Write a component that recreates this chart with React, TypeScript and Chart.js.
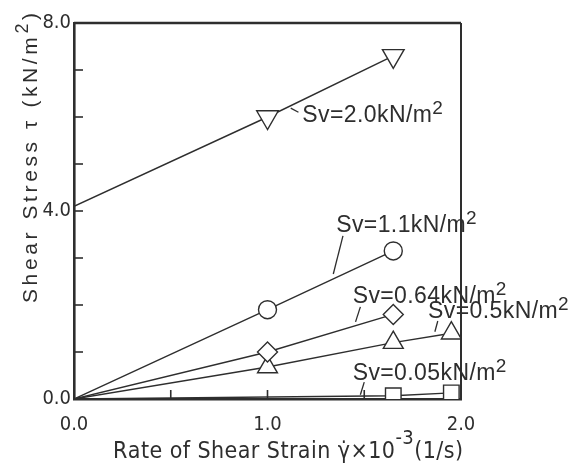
import React, { useEffect, useRef } from "react";
import { Chart, registerables } from "chart.js";
Chart.register(...registerables);

// ---------- data ----------
const xTickValues = [0, 1, 2];
const xTickLabels = ["0.0", "1.0", "2.0"];
const yTickValues = [0, 4, 8];
const yTickLabels = ["0.0", "4.0", "8.0"];

const sv20X = [0, 1.0, 1.65];
const sv20Y = [4.1, 6.0, 7.3];
const sv11X = [0, 1.0, 1.65];
const sv11Y = [0, 1.9, 3.15];
const sv064X = [0, 1.0, 1.65];
const sv064Y = [0, 1.0, 1.8];
const sv05X = [0, 1.0, 1.65, 1.95];
const sv05Y = [0, 0.68, 1.2, 1.4];
const sv005X = [0, 1.65, 1.95];
const sv005Y = [0, 0.07, 0.13];

const seriesLabels = ["Sv=2.0kN/m", "Sv=1.1kN/m", "Sv=0.64kN/m", "Sv=0.5kN/m", "Sv=0.05kN/m"];

// annotation text anchors (data units) and leader lines
const annotations = [
  { label: seriesLabels[0], x: 1.18, y: 5.89, lead: [1.12, 6.19, 1.16, 6.1] },
  { label: seriesLabels[1], x: 1.355, y: 3.55, lead: [1.39, 3.47, 1.34, 2.66] },
  { label: seriesLabels[2], x: 1.44, y: 2.04, lead: [1.48, 1.96, 1.455, 1.64] },
  { label: seriesLabels[3], x: 1.83, y: 1.72, lead: [1.88, 1.66, 1.865, 1.43] },
  { label: seriesLabels[4], x: 1.44, y: 0.40, lead: [1.50, 0.36, 1.48, 0.09] },
];

const INK = "#2e2e2e";
const NARROW = "'DejaVu Sans Condensed', 'Liberation Sans Narrow', sans-serif";
const SANS = "'Liberation Sans', Arial, sans-serif";

type Seg = { t: string; sup?: boolean };

function glyphs(s: string): string[] {
  return s.match(/\P{M}\p{M}*/gu) || [];
}

function richWidth(ctx: CanvasRenderingContext2D, segs: Seg[], font: string, supFont: string) {
  let w = 0;
  let n = 0;
  for (const s of segs) {
    ctx.font = s.sup ? supFont : font;
    for (const g of glyphs(s.t)) {
      w += ctx.measureText(g).width;
      n++;
    }
  }
  return { w, n };
}

function drawRich(
  ctx: CanvasRenderingContext2D,
  segs: Seg[],
  x: number,
  y: number,
  font: string,
  supFont: string,
  sp: number,
  supRaise: number
) {
  let cx = x;
  ctx.textBaseline = "alphabetic";
  ctx.textAlign = "left";
  for (const s of segs) {
    ctx.font = s.sup ? supFont : font;
    for (const g of glyphs(s.t)) {
      ctx.fillText(g, cx, s.sup ? y - supRaise : y);
      cx += ctx.measureText(g).width + sp;
    }
  }
}

const overlay = {
  id: "overlay",
  beforeDatasetsDraw(chart: any) {
    const { ctx, chartArea, scales } = chart;
    const { left, right, top, bottom } = chartArea;
    ctx.save();
    ctx.strokeStyle = INK;
    ctx.lineWidth = 1.6;
    for (const t of scales.x.ticks) {
      const px = scales.x.getPixelForValue(t.value);
      if (px <= left + 1 || px >= right - 1) continue;
      ctx.beginPath();
      ctx.moveTo(px, bottom);
      ctx.lineTo(px, bottom - 9);
      ctx.stroke();
    }
    for (const t of scales.y.ticks) {
      const py = scales.y.getPixelForValue(t.value);
      if (py >= bottom - 1) continue;
      ctx.beginPath();
      ctx.moveTo(left, py);
      ctx.lineTo(left + 9, py);
      ctx.stroke();
    }
    // frame top + right
    ctx.lineWidth = 2.6;
    ctx.beginPath();
    ctx.moveTo(left, top);
    ctx.lineTo(right, top);
    ctx.stroke();
    ctx.lineWidth = 2;
    ctx.beginPath();
    ctx.moveTo(right, top);
    ctx.lineTo(right, bottom);
    ctx.stroke();
    ctx.restore();
  },
  afterDatasetsDraw(chart: any) {
    const { ctx, scales } = chart;
    const xs = scales.x;
    const ys = scales.y;
    ctx.save();
    ctx.fillStyle = INK;
    ctx.strokeStyle = INK;
    ctx.lineWidth = 1.3;
    for (const a of annotations) {
      const px = xs.getPixelForValue(a.x);
      const py = ys.getPixelForValue(a.y);
      drawRich(ctx, [{ t: a.label }, { t: "2", sup: true }], px, py, `23px ${SANS}`, `19px ${SANS}`, 0.4, 8);
      ctx.beginPath();
      ctx.moveTo(xs.getPixelForValue(a.lead[0]), ys.getPixelForValue(a.lead[1]));
      ctx.lineTo(xs.getPixelForValue(a.lead[2]), ys.getPixelForValue(a.lead[3]));
      ctx.stroke();
    }

    // x title
    const xSegs: Seg[] = [{ t: "Rate of Shear Strain γ̇×10" }, { t: "-3", sup: true }, { t: "(1/s)" }];
    const xf = `23px ${NARROW}`;
    const xsf = `20px ${NARROW}`;
    const xm = richWidth(ctx, xSegs, xf, xsf);
    const xsp = (350 - xm.w) / (xm.n - 1);
    drawRich(ctx, xSegs, 113, 458, xf, xsf, xsp, 14);

    // y title
    const ySegs: Seg[] = [{ t: "Shear Stress τ (kN/m" }, { t: "2", sup: true }, { t: ")" }];
    const yf = `21px ${SANS}`;
    const ysf = `18px ${SANS}`;
    const ym = richWidth(ctx, ySegs, yf, ysf);
    const ysp = (290 - ym.w) / (ym.n - 1);
    ctx.translate(37, 303);
    ctx.rotate(-Math.PI / 2);
    drawRich(ctx, ySegs, 0, 0, yf, ysf, ysp, 9);
    ctx.restore();
  },
};

function mk(xv: number[], yv: number[], style: string, r: number, rot = 0) {
  return {
    data: xv.map((x, i) => ({ x, y: yv[i] })),
    showLine: true,
    borderColor: INK,
    borderWidth: 1.4,
    pointStyle: style,
    pointRotation: rot,
    pointRadius: xv.map((x) => (x === 0 ? 0 : r)),
    pointHoverRadius: xv.map((x) => (x === 0 ? 0 : r)),
    pointBackgroundColor: "#ffffff",
    pointBorderColor: INK,
    pointBorderWidth: 1.4,
  };
}

export default function App() {
  const ref = useRef<HTMLCanvasElement>(null);
  useEffect(() => {
    if (!ref.current) return;
    const tickFont = { family: NARROW, size: 20 };
    const chart = new Chart(ref.current, {
      type: "scatter",
      data: {
        datasets: [
          mk(sv20X, sv20Y, "triangle", 12.5, 180),
          mk(sv11X, sv11Y, "circle", 9),
          mk(sv064X, sv064Y, "rectRot", 10),
          mk(sv05X, sv05Y, "triangle", 11.5),
          mk(sv005X, sv005Y, "rect", 11),
        ] as any,
      },
      options: {
        animation: false,
        responsive: false,
        devicePixelRatio: 1,
        layout: { padding: { top: 23, right: 115, left: 0, bottom: 0 } },
        plugins: { legend: { display: false }, tooltip: { enabled: false } },
        scales: {
          x: {
            type: "linear",
            min: 0,
            max: 2,
            grid: { display: false, drawTicks: false },
            border: { display: true, color: INK, width: 2.6 },
            ticks: {
              stepSize: 0.5,
              autoSkip: false,
              maxRotation: 0,
              color: INK,
              font: tickFont,
              padding: 14,
              callback: (v: any) => {
                const i = xTickValues.indexOf(Number(v));
                return i >= 0 ? xTickLabels[i] : "";
              },
            },
            afterFit: (s: any) => {
              s.height = 64;
            },
          },
          y: {
            type: "linear",
            min: 0,
            max: 8,
            grid: { display: false, drawTicks: false },
            border: { display: true, color: INK, width: 2.6 },
            ticks: {
              stepSize: 1,
              autoSkip: false,
              color: INK,
              font: tickFont,
              padding: 3,
              callback: (v: any) => {
                const i = yTickValues.indexOf(Number(v));
                return i >= 0 ? yTickLabels[i] : "";
              },
            },
            afterFit: (s: any) => {
              s.width = 74;
            },
          },
        },
      },
      plugins: [overlay],
    });
    return () => chart.destroy();
  }, []);
  return (
    <div style={{ position: "fixed", left: 0, top: 0, width: 576, height: 463, background: "#fff" }}>
      <canvas ref={ref} width={576} height={463} style={{ display: "block", width: 576, height: 463 }} />
    </div>
  );
}
